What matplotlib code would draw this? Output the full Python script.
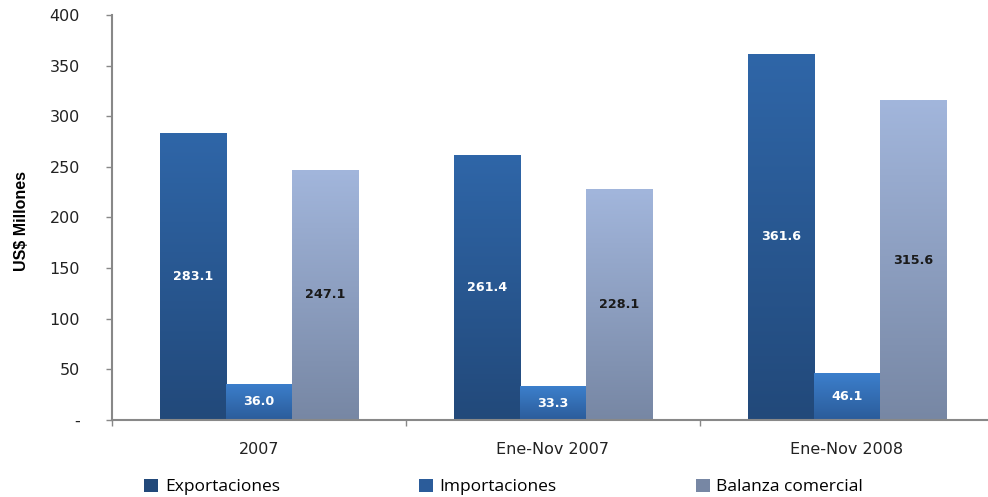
import matplotlib
matplotlib.use('Agg')
import matplotlib.pyplot as plt
import matplotlib.colors as mcolors
import numpy as np

categories = ['2007', 'Ene-Nov 2007', 'Ene-Nov 2008']
series = ['Exportaciones', 'Importaciones', 'Balanza comercial']
exportaciones = [283.1, 261.4, 361.6]
importaciones = [36.0, 33.3, 46.1]
balanza = [247.1, 228.1, 315.6]

# (top colour, bottom colour) of each gradient
grad = [('#2F66A8', '#22497A'),
        ('#3C7FCC', '#2B5C9A'),
        ('#A2B6DC', '#7787A4')]
label_colors = ['white', 'white', '#1a1a1a']

fig = plt.figure(figsize=(9.88, 4.97), dpi=100)
ax = fig.add_axes([0.1134, 0.155, 0.8866, 0.815])

x = np.arange(len(categories))
width = 0.225
offsets = [-width, 0, width]
values = [exportaciones, importaciones, balanza]

handles = []
for i, (name, vals) in enumerate(zip(series, values)):
    top, bottom = grad[i]
    bars = ax.bar(x + offsets[i], vals, width, color=bottom, label=name, linewidth=0)
    cmap = mcolors.LinearSegmentedColormap.from_list('g%d' % i, [bottom, top])
    for b in bars:
        x0, y0 = b.get_x(), b.get_y()
        im = ax.imshow(np.linspace(0, 1, 256).reshape(-1, 1), cmap=cmap, origin='lower',
                       extent=[x0, x0 + b.get_width(), y0, y0 + b.get_height()],
                       aspect='auto', zorder=2)
        im.set_clip_path(b)
        ax.text(x0 + b.get_width() / 2, b.get_height() / 2, '%.1f' % b.get_height(),
                ha='center', va='center', color=label_colors[i],
                fontsize=9.2, fontweight='bold', zorder=3)
    handles.append(bars)

ax.set_xlim(-0.5, 2.48)
ax.set_ylim(0, 400)
ax.set_yticks(np.arange(0, 401, 50))
ax.set_yticklabels(['-'] + [str(v) for v in range(50, 401, 50)], fontsize=11.5, color='#222222')
ax.set_xticks(x)
ax.set_xticklabels(categories, fontsize=11.5, color='#222222')
ax.set_xticks([-0.5, 0.5, 1.5], minor=True)
ax.tick_params(axis='x', which='major', length=0, pad=16)
ax.tick_params(axis='x', which='minor', length=4, color='#888888', width=1)
ax.tick_params(axis='y', length=4, color='#888888', width=1, pad=19)

for s in ['top', 'right']:
    ax.spines[s].set_visible(False)
for s in ['left', 'bottom']:
    ax.spines[s].set_color('#888888')
    ax.spines[s].set_linewidth(1.5)

ax.set_ylabel('US$ Millones', fontsize=11.5, fontweight='bold',
              family=['Liberation Sans Narrow', 'Liberation Sans'])
ax.yaxis.set_label_coords(-0.095, 0.49)

leg = fig.legend(handles=handles, labels=series, loc='lower left',
                 bbox_to_anchor=(0.13, -0.028), ncol=3, frameon=False,
                 handlelength=0.8, handleheight=0.8, handletextpad=0.4,
                 columnspacing=8.0, prop={'family': 'Open Sans', 'size': 12.5})
for h, (top, bottom) in zip(leg.legend_handles, grad):
    h.set_color(bottom)

fig.savefig('out.png', dpi=100)
